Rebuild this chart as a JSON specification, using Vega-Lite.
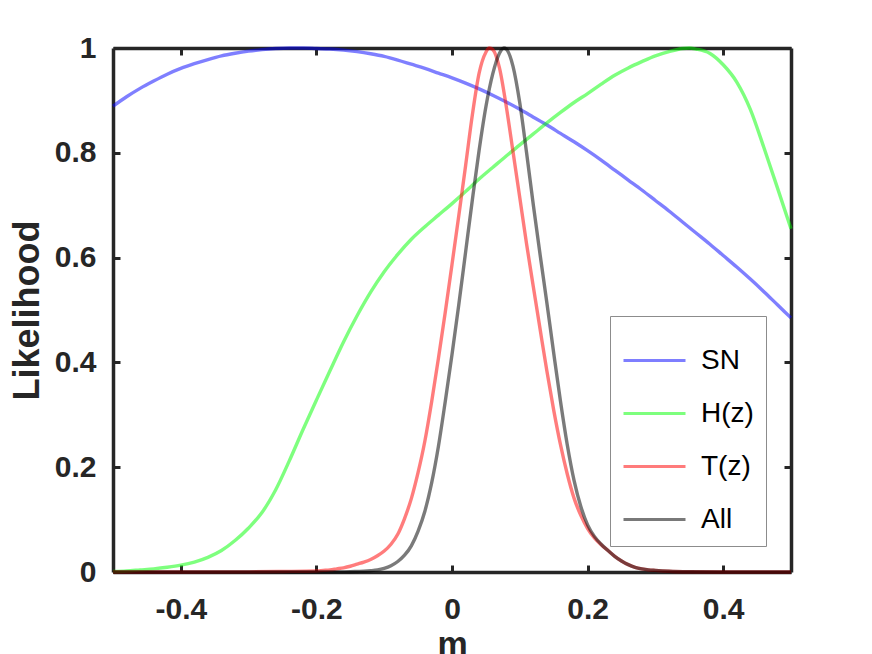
{
  "$schema": "https://vega.github.io/schema/vega-lite/v6.json",
  "width": 678,
  "height": 524,
  "autosize": {"type": "none"},
  "padding": {"left": 113, "top": 48, "right": 81, "bottom": 82},
  "background": "white",
  "config": {
    "font": "Liberation Sans",
    "view": {"stroke": null},
    "axis": {
      "grid": false,
      "labelFont": "Liberation Sans",
      "labelFontSize": 30,
      "labelFontWeight": "bold",
      "labelColor": "#262626",
      "titleFont": "Liberation Sans",
      "titleFontSize": 36,
      "titleFontWeight": "bold",
      "titleColor": "#262626",
      "domainColor": "#262626",
      "domainWidth": 3.5,
      "tickColor": "#262626",
      "tickWidth": 3,
      "tickSize": -7
    }
  },
  "datasets": {
    "curves": [
      {"s": "SN", "m": -0.50, "L": 0.889}, {"s": "SN", "m": -0.48, "L": 0.907}, {"s": "SN", "m": -0.46, "L": 0.923},
      {"s": "SN", "m": -0.44, "L": 0.937}, {"s": "SN", "m": -0.42, "L": 0.950}, {"s": "SN", "m": -0.40, "L": 0.961},
      {"s": "SN", "m": -0.38, "L": 0.970}, {"s": "SN", "m": -0.36, "L": 0.978}, {"s": "SN", "m": -0.34, "L": 0.985},
      {"s": "SN", "m": -0.32, "L": 0.990}, {"s": "SN", "m": -0.30, "L": 0.994}, {"s": "SN", "m": -0.28, "L": 0.997},
      {"s": "SN", "m": -0.26, "L": 0.999}, {"s": "SN", "m": -0.24, "L": 1.000}, {"s": "SN", "m": -0.22, "L": 1.000},
      {"s": "SN", "m": -0.20, "L": 0.999}, {"s": "SN", "m": -0.18, "L": 0.998}, {"s": "SN", "m": -0.16, "L": 0.996},
      {"s": "SN", "m": -0.14, "L": 0.993}, {"s": "SN", "m": -0.12, "L": 0.989}, {"s": "SN", "m": -0.10, "L": 0.984},
      {"s": "SN", "m": -0.08, "L": 0.977}, {"s": "SN", "m": -0.06, "L": 0.969}, {"s": "SN", "m": -0.04, "L": 0.961},
      {"s": "SN", "m": -0.02, "L": 0.952}, {"s": "SN", "m": 0.00, "L": 0.943}, {"s": "SN", "m": 0.02, "L": 0.933},
      {"s": "SN", "m": 0.04, "L": 0.922}, {"s": "SN", "m": 0.06, "L": 0.910}, {"s": "SN", "m": 0.08, "L": 0.897},
      {"s": "SN", "m": 0.10, "L": 0.883}, {"s": "SN", "m": 0.12, "L": 0.868}, {"s": "SN", "m": 0.14, "L": 0.853},
      {"s": "SN", "m": 0.16, "L": 0.837}, {"s": "SN", "m": 0.18, "L": 0.821}, {"s": "SN", "m": 0.20, "L": 0.804},
      {"s": "SN", "m": 0.22, "L": 0.786}, {"s": "SN", "m": 0.24, "L": 0.767}, {"s": "SN", "m": 0.26, "L": 0.748},
      {"s": "SN", "m": 0.28, "L": 0.729}, {"s": "SN", "m": 0.30, "L": 0.709}, {"s": "SN", "m": 0.32, "L": 0.689},
      {"s": "SN", "m": 0.34, "L": 0.668}, {"s": "SN", "m": 0.36, "L": 0.647}, {"s": "SN", "m": 0.38, "L": 0.626},
      {"s": "SN", "m": 0.40, "L": 0.604}, {"s": "SN", "m": 0.42, "L": 0.582}, {"s": "SN", "m": 0.44, "L": 0.559},
      {"s": "SN", "m": 0.46, "L": 0.535}, {"s": "SN", "m": 0.48, "L": 0.510}, {"s": "SN", "m": 0.50, "L": 0.485},

      {"s": "H(z)", "m": -0.50, "L": 0.001}, {"s": "H(z)", "m": -0.48, "L": 0.002}, {"s": "H(z)", "m": -0.46, "L": 0.004},
      {"s": "H(z)", "m": -0.44, "L": 0.006}, {"s": "H(z)", "m": -0.42, "L": 0.009}, {"s": "H(z)", "m": -0.40, "L": 0.013},
      {"s": "H(z)", "m": -0.38, "L": 0.019}, {"s": "H(z)", "m": -0.36, "L": 0.028}, {"s": "H(z)", "m": -0.34, "L": 0.041},
      {"s": "H(z)", "m": -0.32, "L": 0.060}, {"s": "H(z)", "m": -0.30, "L": 0.084}, {"s": "H(z)", "m": -0.28, "L": 0.114},
      {"s": "H(z)", "m": -0.26, "L": 0.157}, {"s": "H(z)", "m": -0.24, "L": 0.212}, {"s": "H(z)", "m": -0.22, "L": 0.271},
      {"s": "H(z)", "m": -0.20, "L": 0.328}, {"s": "H(z)", "m": -0.18, "L": 0.384}, {"s": "H(z)", "m": -0.16, "L": 0.439},
      {"s": "H(z)", "m": -0.14, "L": 0.489}, {"s": "H(z)", "m": -0.12, "L": 0.534}, {"s": "H(z)", "m": -0.10, "L": 0.573},
      {"s": "H(z)", "m": -0.08, "L": 0.606}, {"s": "H(z)", "m": -0.06, "L": 0.635}, {"s": "H(z)", "m": -0.04, "L": 0.659},
      {"s": "H(z)", "m": -0.02, "L": 0.681}, {"s": "H(z)", "m": 0.00, "L": 0.703}, {"s": "H(z)", "m": 0.02, "L": 0.726},
      {"s": "H(z)", "m": 0.04, "L": 0.750}, {"s": "H(z)", "m": 0.06, "L": 0.772}, {"s": "H(z)", "m": 0.08, "L": 0.794},
      {"s": "H(z)", "m": 0.10, "L": 0.815}, {"s": "H(z)", "m": 0.12, "L": 0.836}, {"s": "H(z)", "m": 0.14, "L": 0.857},
      {"s": "H(z)", "m": 0.16, "L": 0.877}, {"s": "H(z)", "m": 0.18, "L": 0.896}, {"s": "H(z)", "m": 0.20, "L": 0.913},
      {"s": "H(z)", "m": 0.22, "L": 0.931}, {"s": "H(z)", "m": 0.24, "L": 0.948}, {"s": "H(z)", "m": 0.26, "L": 0.962},
      {"s": "H(z)", "m": 0.28, "L": 0.974}, {"s": "H(z)", "m": 0.30, "L": 0.985}, {"s": "H(z)", "m": 0.32, "L": 0.993},
      {"s": "H(z)", "m": 0.34, "L": 0.999}, {"s": "H(z)", "m": 0.35, "L": 1.000}, {"s": "H(z)", "m": 0.36, "L": 0.998},
      {"s": "H(z)", "m": 0.38, "L": 0.990}, {"s": "H(z)", "m": 0.40, "L": 0.968}, {"s": "H(z)", "m": 0.42, "L": 0.935},
      {"s": "H(z)", "m": 0.44, "L": 0.883}, {"s": "H(z)", "m": 0.46, "L": 0.810}, {"s": "H(z)", "m": 0.48, "L": 0.733},
      {"s": "H(z)", "m": 0.50, "L": 0.655},

      {"s": "T(z)", "m": -0.50, "L": 0}, {"s": "T(z)", "m": -0.40, "L": 0}, {"s": "T(z)", "m": -0.30, "L": 0.0003},
      {"s": "T(z)", "m": -0.25, "L": 0.001}, {"s": "T(z)", "m": -0.20, "L": 0.002}, {"s": "T(z)", "m": -0.19, "L": 0.003},
      {"s": "T(z)", "m": -0.18, "L": 0.004}, {"s": "T(z)", "m": -0.17, "L": 0.006}, {"s": "T(z)", "m": -0.16, "L": 0.008},
      {"s": "T(z)", "m": -0.15, "L": 0.011}, {"s": "T(z)", "m": -0.14, "L": 0.015}, {"s": "T(z)", "m": -0.13, "L": 0.019},
      {"s": "T(z)", "m": -0.12, "L": 0.024}, {"s": "T(z)", "m": -0.11, "L": 0.031}, {"s": "T(z)", "m": -0.10, "L": 0.040},
      {"s": "T(z)", "m": -0.09, "L": 0.053}, {"s": "T(z)", "m": -0.08, "L": 0.072}, {"s": "T(z)", "m": -0.07, "L": 0.102},
      {"s": "T(z)", "m": -0.06, "L": 0.140}, {"s": "T(z)", "m": -0.05, "L": 0.190}, {"s": "T(z)", "m": -0.04, "L": 0.250},
      {"s": "T(z)", "m": -0.03, "L": 0.325}, {"s": "T(z)", "m": -0.02, "L": 0.408}, {"s": "T(z)", "m": -0.01, "L": 0.495},
      {"s": "T(z)", "m": 0.00, "L": 0.587}, {"s": "T(z)", "m": 0.01, "L": 0.680}, {"s": "T(z)", "m": 0.02, "L": 0.775},
      {"s": "T(z)", "m": 0.03, "L": 0.872}, {"s": "T(z)", "m": 0.04, "L": 0.952}, {"s": "T(z)", "m": 0.05, "L": 0.992},
      {"s": "T(z)", "m": 0.055, "L": 1.000}, {"s": "T(z)", "m": 0.06, "L": 0.997}, {"s": "T(z)", "m": 0.07, "L": 0.962},
      {"s": "T(z)", "m": 0.08, "L": 0.889}, {"s": "T(z)", "m": 0.09, "L": 0.802}, {"s": "T(z)", "m": 0.10, "L": 0.714},
      {"s": "T(z)", "m": 0.11, "L": 0.626}, {"s": "T(z)", "m": 0.12, "L": 0.544}, {"s": "T(z)", "m": 0.13, "L": 0.463},
      {"s": "T(z)", "m": 0.14, "L": 0.383}, {"s": "T(z)", "m": 0.15, "L": 0.309}, {"s": "T(z)", "m": 0.16, "L": 0.243},
      {"s": "T(z)", "m": 0.17, "L": 0.187}, {"s": "T(z)", "m": 0.18, "L": 0.141}, {"s": "T(z)", "m": 0.19, "L": 0.108},
      {"s": "T(z)", "m": 0.20, "L": 0.083}, {"s": "T(z)", "m": 0.21, "L": 0.065}, {"s": "T(z)", "m": 0.22, "L": 0.052},
      {"s": "T(z)", "m": 0.23, "L": 0.041}, {"s": "T(z)", "m": 0.24, "L": 0.030}, {"s": "T(z)", "m": 0.25, "L": 0.021},
      {"s": "T(z)", "m": 0.26, "L": 0.014}, {"s": "T(z)", "m": 0.27, "L": 0.009}, {"s": "T(z)", "m": 0.28, "L": 0.006},
      {"s": "T(z)", "m": 0.29, "L": 0.004}, {"s": "T(z)", "m": 0.30, "L": 0.003}, {"s": "T(z)", "m": 0.32, "L": 0.0015},
      {"s": "T(z)", "m": 0.35, "L": 0.0005}, {"s": "T(z)", "m": 0.40, "L": 0}, {"s": "T(z)", "m": 0.50, "L": 0},

      {"s": "All", "m": -0.50, "L": 0}, {"s": "All", "m": -0.20, "L": 0}, {"s": "All", "m": -0.16, "L": 0.0003},
      {"s": "All", "m": -0.15, "L": 0.0005}, {"s": "All", "m": -0.14, "L": 0.001}, {"s": "All", "m": -0.13, "L": 0.0015},
      {"s": "All", "m": -0.12, "L": 0.0025}, {"s": "All", "m": -0.11, "L": 0.004}, {"s": "All", "m": -0.10, "L": 0.007},
      {"s": "All", "m": -0.09, "L": 0.012}, {"s": "All", "m": -0.08, "L": 0.020}, {"s": "All", "m": -0.07, "L": 0.032},
      {"s": "All", "m": -0.06, "L": 0.050}, {"s": "All", "m": -0.05, "L": 0.078}, {"s": "All", "m": -0.04, "L": 0.116},
      {"s": "All", "m": -0.03, "L": 0.170}, {"s": "All", "m": -0.02, "L": 0.240}, {"s": "All", "m": -0.01, "L": 0.325},
      {"s": "All", "m": 0.00, "L": 0.415}, {"s": "All", "m": 0.01, "L": 0.510}, {"s": "All", "m": 0.02, "L": 0.610},
      {"s": "All", "m": 0.03, "L": 0.710}, {"s": "All", "m": 0.04, "L": 0.805}, {"s": "All", "m": 0.05, "L": 0.888},
      {"s": "All", "m": 0.06, "L": 0.950}, {"s": "All", "m": 0.07, "L": 0.990}, {"s": "All", "m": 0.0765, "L": 1.000},
      {"s": "All", "m": 0.08, "L": 0.998}, {"s": "All", "m": 0.09, "L": 0.965}, {"s": "All", "m": 0.10, "L": 0.895},
      {"s": "All", "m": 0.11, "L": 0.800}, {"s": "All", "m": 0.12, "L": 0.700}, {"s": "All", "m": 0.13, "L": 0.605},
      {"s": "All", "m": 0.14, "L": 0.513}, {"s": "All", "m": 0.15, "L": 0.418}, {"s": "All", "m": 0.16, "L": 0.326},
      {"s": "All", "m": 0.17, "L": 0.243}, {"s": "All", "m": 0.18, "L": 0.175}, {"s": "All", "m": 0.19, "L": 0.125},
      {"s": "All", "m": 0.20, "L": 0.090}, {"s": "All", "m": 0.21, "L": 0.068}, {"s": "All", "m": 0.22, "L": 0.053},
      {"s": "All", "m": 0.23, "L": 0.041}, {"s": "All", "m": 0.24, "L": 0.030}, {"s": "All", "m": 0.25, "L": 0.021},
      {"s": "All", "m": 0.26, "L": 0.014}, {"s": "All", "m": 0.27, "L": 0.009}, {"s": "All", "m": 0.28, "L": 0.006},
      {"s": "All", "m": 0.29, "L": 0.004}, {"s": "All", "m": 0.30, "L": 0.003}, {"s": "All", "m": 0.32, "L": 0.0015},
      {"s": "All", "m": 0.35, "L": 0.0005}, {"s": "All", "m": 0.40, "L": 0}, {"s": "All", "m": 0.50, "L": 0}
    ]
  },
  "data": {"name": "curves"},
  "layer": [
    {
      "mark": {"type": "line", "strokeWidth": 3.4, "interpolate": "monotone"},
      "encoding": {
        "x": {
          "field": "m", "type": "quantitative",
          "scale": {"domain": [-0.5, 0.5], "nice": false, "zero": false},
          "axis": {"title": "m", "titleFontSize": 34, "values": [-0.4, -0.2, 0, 0.2, 0.4], "labelExpr": "'' + datum.value", "labelPadding": 29, "titlePadding": 3}
        },
        "y": {
          "field": "L", "type": "quantitative",
          "scale": {"domain": [0, 1], "nice": false},
          "axis": {"title": "Likelihood", "values": [0, 0.2, 0.4, 0.6, 0.8, 1], "labelExpr": "'' + datum.value", "labelPadding": 24, "titlePadding": 8}
        },
        "color": {
          "field": "s", "type": "nominal",
          "scale": {"domain": ["SN", "H(z)", "T(z)", "All"], "range": ["#0000ff", "#00ff00", "#ff0000", "#000000"]},
          "legend": {
            "title": null, "orient": "none", "legendX": 497, "legendY": 268,
            "symbolType": "stroke", "symbolSize": 3844, "symbolStrokeWidth": 3, "symbolOpacity": 1,
            "labelFont": "Liberation Sans", "labelFontSize": 28, "labelFontWeight": "normal", "labelColor": "#000000",
            "labelOffset": 14, "rowPadding": 6, "padding": 12,
            "strokeColor": "#8c8c8c", "fillColor": "#ffffff"
          }
        },
        "opacity": {
          "field": "s", "type": "ordinal",
          "scale": {"domain": ["SN", "H(z)", "T(z)", "All"], "range": [0.5, 0.52, 0.65, 0.65]},
          "legend": null
        }
      }
    },
    {
      "mark": {"type": "line", "opacity": 0},
      "encoding": {
        "x": {"field": "m", "type": "quantitative", "axis": {"orient": "top", "labels": false, "title": null, "values": [-0.4, -0.2, 0, 0.2, 0.4]}},
        "y": {"field": "L", "type": "quantitative", "axis": {"orient": "right", "labels": false, "title": null, "values": [0, 0.2, 0.4, 0.6, 0.8, 1]}}
      }
    }
  ],
  "resolve": {"axis": {"x": "independent", "y": "independent"}}
}
